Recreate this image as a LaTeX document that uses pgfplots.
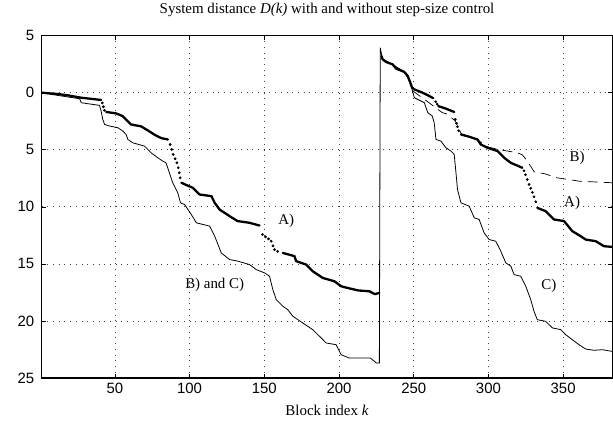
\documentclass[border=0pt]{standalone}
\usepackage{fontspec}
\setmainfont{Liberation Serif}
\setsansfont{Liberation Sans}
\usepackage{pgfplots}
\pgfplotsset{compat=1.18}
\begin{document}
\begin{tikzpicture}
\begin{axis}[
  name=ax,
  scale only axis,
  width=571.3bp, height=342.7bp,
  xmin=1, xmax=383, ymin=-25, ymax=5,
  xtick={50,100,150,200,250,300,350},
  ytick={-25,-20,-15,-10,-5,0,5},
  yticklabels={25,20,15,10,5,0,5},
  /pgf/number format/assume math mode=true,
  ticklabel style={font=\fontsize{15}{15}\selectfont\sffamily},
  xticklabel style={yshift=-2bp},
  yticklabel style={xshift=-4bp},
  major tick length=4bp,
  tick style={black, line width=0.6bp},
  axis line style={line width=1.1bp},
  grid=major,
  major grid style={black!75, line width=0.7bp, dash pattern=on 0.7bp off 5bp},
  title={System distance \textit{D(k)} with and without step-size control},
  title style={font=\fontsize{15}{15}\selectfont, at={(axis description cs:0.5,1)}, anchor=base, yshift=16bp},
  xlabel={Block index \textit{k}},
  xlabel style={font=\fontsize{15}{15}\selectfont, at={(axis description cs:0.5,0)}, anchor=base, yshift=-38bp},
]
% Curve C (thin), also B on left part
\addplot[black, line width=0.8bp] table {
1 0
11.9 -0.24
26.4 -0.53
27.5 -0.88
39.7 -1.11
40.8 -1.61
41.9 -2.34
43.1 -2.78
46.4 -2.92
52.0 -3.07
55.3 -3.36
57.5 -3.66
58.7 -4.10
62.0 -4.39
69.8 -4.68
74.2 -5.26
78.7 -5.70
82.0 -5.99
84.2 -6.14
86.5 -7.02
88.7 -7.89
92.1 -8.77
93.9 -9.65
96.7 -9.80
101.2 -10.68
104.5 -11.40
113.4 -11.69
116.8 -12.57
121.2 -14.04
126.8 -14.62
132.3 -14.76
140.1 -15.06
144.6 -15.50
150.2 -15.79
153.5 -16.08
155.7 -17.25
158.0 -18.13
162.4 -18.71
165.7 -19.01
169.1 -19.59
175.8 -20.18
182.4 -20.76
186.9 -21.34
191.4 -21.93
198.1 -22.08
201.4 -22.96
206.9 -23.25
221.0 -23.25
225.0 -23.68
227.0 -23.68
227.6 3.95
229.0 2.98
235.7 2.48
243.7 1.84
247.7 0.88
249.1 0.18
250.4 -0.44
257.1 -0.88
259.4 -1.75
262.4 -2.04
263.7 -2.63
264.9 -4.10
268.2 -4.24
271.5 -4.82
274.9 -5.11
277.1 -5.41
278.4 -7.19
279.3 -8.48
281.6 -9.65
287.1 -9.94
290.5 -10.96
293.8 -11.11
297.1 -12.28
300.5 -12.87
304.9 -13.01
308.3 -13.89
311.6 -14.91
315.0 -15.20
317.2 -15.94
321.6 -16.08
325.0 -16.96
328.3 -18.13
330.5 -19.15
332.7 -19.89
338.3 -20.03
342.8 -20.61
348.4 -20.76
351.7 -21.20
356.1 -21.64
360.6 -22.08
365.1 -22.46
370.6 -22.57
376.2 -22.52
382.6 -22.66
};
% Curve B (dashed, right part)
\addplot[black, line width=0.7bp, dash pattern=on 10bp off 6bp] table {
249.1 0.18
258.4 -0.70
269.1 -1.75
271.7 -1.84
277.8 -2.46
281.8 -3.60
292.5 -4.12
299.2 -4.74
307.2 -5.00
312.6 -5.11
319.3 -5.26
322.6 -5.44
325.9 -5.96
330.6 -6.93
337.9 -7.11
345.9 -7.46
360.6 -7.75
372.6 -7.83
382.6 -7.89
};
% Curve A (thick) segments
\tikzset{Aline/.style={black, line width=2.3bp, line join=round, line cap=round}}
\tikzset{Adots/.style={only marks, mark=*, mark size=1.15bp, black}}
\addplot[Aline] table {
1 0
12 -0.12
18.5 -0.23
27.5 -0.44
35 -0.55
40.8 -0.64
};
\addplot[Adots] table {
41.6 -0.90
42.3 -1.23
43.0 -1.54
};
\addplot[Aline] table {
44.2 -1.69
50.7 -1.81
55.2 -2.05
57.3 -2.34
60.8 -2.78
67.5 -2.95
72 -3.30
76.5 -3.68
81 -3.98
85.5 -4.10
};
\addplot[Adots] table {
87.0 -4.54
88.0 -4.97
89.0 -5.41
90.3 -5.79
91.5 -6.14
92.4 -6.58
93.1 -7.02
93.7 -7.46
};
\addplot[Aline] table {
94.5 -7.89
98 -8.10
102.1 -8.33
106.7 -8.92
111 -9.00
114.6 -9.06
116.8 -9.65
120.1 -10.24
126.8 -10.82
132.1 -11.25
140.1 -11.40
146.8 -11.64
};
\addplot[Adots] table {
148.8 -12.43
150.8 -12.63
152.8 -12.81
154.6 -13.01
155.8 -13.42
156.8 -13.75
158.9 -13.90
};
\addplot[Aline] table {
162.4 -14.04
170.2 -14.32
171.3 -14.76
178.0 -15.06
182.4 -15.64
189.1 -16.23
196.9 -16.52
201.4 -16.96
205.8 -17.11
213.0 -17.33
220.3 -17.40
224 -17.65
227.0 -17.54
};
\addplot[Aline] table {
228.5 3.20
229.2 2.92
231.5 2.69
235.9 2.48
238.2 2.11
243.7 1.82
246.0 1.46
247.7 0.88
248.9 0.44
250.4 0.29
255.9 0
260.4 -0.29
263.0 -0.48
};
\addplot[Adots] table {
264.7 -0.79
265.7 -1.01
};
\addplot[Aline] table {
266.4 -1.17
271.6 -1.40
277.1 -1.69
};
\addplot[Adots] table {
277.8 -2.34
278.6 -2.68
279.3 -2.98
280.1 -3.33
};
\addplot[Aline] table {
281.6 -3.66
287.2 -3.86
292.7 -4.10
294.9 -4.54
299.3 -4.82
306.0 -5.11
310.5 -5.70
314.9 -6.14
322.7 -6.58
};
\addplot[Adots] table {
323.8 -6.84
324.8 -7.19
326.0 -7.61
327.2 -8.04
328.3 -8.38
329.4 -8.73
330.5 -9.12
331.7 -9.56
};
\addplot[Aline] table {
332.7 -10.09
338.3 -10.38
343.9 -11.11
350.6 -11.25
356.1 -12.13
361.7 -12.57
365.1 -12.87
371.8 -13.01
377.3 -13.45
382.6 -13.51
};
\node[font=\fontsize{15}{15}\selectfont] at (axis cs:164.7,-11.23) {A)};
\node[font=\fontsize{15}{15}\selectfont] at (axis cs:116.8,-16.84) {B) and C)};
\node[font=\fontsize{15}{15}\selectfont] at (axis cs:359.3,-5.70) {B)};
\node[font=\fontsize{15}{15}\selectfont] at (axis cs:356,-9.65) {A)};
\node[font=\fontsize{15}{15}\selectfont] at (axis cs:340.5,-16.93) {C)};
\end{axis}
\path ([xshift=-41.7bp,yshift=-45.3bp]ax.south west) rectangle ([yshift=33bp]ax.north east);
\end{tikzpicture}
\end{document}
